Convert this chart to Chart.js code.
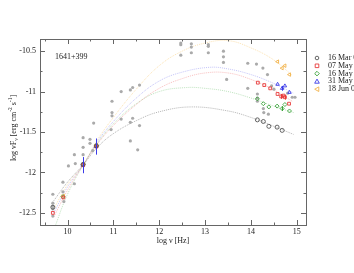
<!DOCTYPE html>
<html>
<head>
<meta charset="utf-8">
<script src="https://cdn.jsdelivr.net/npm/chart.js@4"></script>
<style>
  html, body { margin: 0; padding: 0; background: #fff; }
  #wrap { width: 354px; height: 273px; }
</style>
</head>
<body>
<div id="wrap"><canvas id="sed" width="354" height="273"></canvas></div>
<script>
// valori (log nu, log nuFnu)
const archivio = [
  [9.68,-12.27],[9.68,-12.38],[9.68,-12.42],[9.68,-12.45],[9.68,-12.54],
  [9.90,-12.12],[9.90,-12.24],[9.92,-12.36],
  [10.02,-11.92],[10.15,-11.78],[10.17,-11.89],[10.15,-12.14],
  [10.34,-11.57],[10.34,-11.69],[10.34,-11.78],
  [10.49,-11.59],[10.49,-11.64],[10.57,-11.39],[10.55,-11.73],
  [10.97,-11.12],[10.97,-11.26],[10.97,-11.30],[10.95,-11.47],
  [11.17,-11.00],[11.17,-11.34],
  [11.37,-10.98],[11.42,-10.95],[11.57,-10.92],
  [11.37,-11.61],[11.42,-11.33],[11.37,-11.38],[11.53,-11.72],[11.57,-11.42],
  [12.47,-10.40],[12.47,-10.42],[12.47,-10.55],
  [12.70,-10.41],[12.70,-10.45],[12.70,-10.52],
  [13.07,-10.42],[13.07,-10.44],[13.07,-10.52],
  [13.40,-10.50],[13.40,-10.57],[13.40,-10.64],
  [13.47,-10.85],
  [13.93,-10.65],[13.93,-10.96],
  [14.12,-10.66],[14.26,-10.71],[14.36,-10.79],
  [14.14,-11.03],[14.14,-11.08],[14.14,-11.12],
  [14.27,-11.21],[14.28,-11.26],[14.38,-11.28],
  [14.45,-10.93],[14.50,-10.97],
  [14.80,-11.02],[14.90,-11.07],[14.96,-11.07]
];

const mar16 = [[9.68,-12.43],[10.34,-11.90],[10.63,-11.67],[14.14,-11.35],[14.27,-11.37],[14.39,-11.43],[14.57,-11.44],[14.68,-11.48]];
const mag07 = [[9.68,-12.50],[9.91,-12.31],[10.34,-11.91],[10.63,-11.68],[14.15,-10.89],[14.29,-10.92],[14.42,-10.96],[14.58,-11.03],[14.66,-11.06],[14.71,-11.05],[14.74,-11.07],[14.83,-11.15]];
const mag16 = [[9.90,-12.30],[10.34,-11.90],[10.63,-11.67],[14.14,-11.09],[14.27,-11.15],[14.39,-11.19],[14.57,-11.18],[14.68,-11.21],[14.74,-11.16],[14.84,-11.24]];
const mag31 = [[10.33,-11.91],[10.62,-11.68],[14.58,-10.91],[14.68,-10.96],[14.74,-10.93],[14.84,-11.01]];
const giu18 = [[9.91,-12.29],[10.35,-11.90],[10.63,-11.66],[14.58,-10.63],[14.68,-10.71],[14.74,-10.68],[14.84,-10.79]];

// barre d'errore (stesso ordine dei punti)
const err07 = [0,0,0,0.07,0,0,0,0,0.03,0,0.03,0];
const err16 = [0,0,0,0,0,0,0,0.03,0,0];
const err31 = [0.1,0.1,0,0.03,0,0];

// curve del modello lette a occhio
const curvaMar = [[9.7,-12.35],[10,-12.12],[10.35,-11.9],[10.65,-11.69],[11,-11.52],[11.5,-11.36],[12,-11.25],[12.7,-11.19],[13.5,-11.24],[14,-11.32],[14.5,-11.43],[14.93,-11.53]];
const curvaMag07 = [[9.7,-12.55],[10,-12.22],[10.35,-11.9],[10.65,-11.65],[11,-11.42],[11.5,-11.16],[12,-10.96],[12.5,-10.84],[13,-10.77],[13.5,-10.77],[14,-10.85],[14.5,-10.98],[14.9,-11.12]];
const curvaMag16 = [[9.72,-12.68],[10,-12.27],[10.35,-11.9],[10.65,-11.64],[11,-11.4],[11.5,-11.15],[12,-11.0],[12.6,-10.95],[13,-10.96],[13.5,-11.0],[14,-11.08],[14.5,-11.18],[14.93,-11.26]];
const curvaMag31 = [[9.7,-12.5],[10,-12.18],[10.35,-11.9],[10.65,-11.62],[11,-11.37],[11.5,-11.08],[12,-10.87],[12.5,-10.76],[13.1,-10.7],[13.5,-10.72],[14,-10.79],[14.5,-10.9],[14.93,-11.02]];
const curvaGiu = [[9.7,-12.45],[10,-12.15],[10.35,-11.9],[10.65,-11.6],[11,-11.32],[11.5,-10.97],[12,-10.68],[12.5,-10.5],[13,-10.4],[13.5,-10.37],[14,-10.46],[14.5,-10.61],[14.9,-10.8]];

const xMaggiori = [10, 11, 12, 13, 14, 15];
const xMinori = [9.5, 10.5, 11.5, 12.5, 13.5, 14.5];
const yMaggiori = [-12.5, -12, -11.5, -11, -10.5];
const yMinori = [-12.25, -11.75, -11.25, -10.75];

const etichette = ['16 Mar 08', '07 May 08', '16 May 08', '31 May 08', '18 Jun 08'];
const colori = ['#555555', '#e83a3a', '#3aa33a', '#3a3ae8', '#f2b24a'];
const coloriCurve = ['rgba(120,120,120,0.7)', 'rgba(240,120,120,0.6)', 'rgba(120,195,120,0.6)', 'rgba(130,130,240,0.6)', 'rgba(250,205,120,0.7)'];
const simboli = ['circle', 'rect', 'rectRot', 'triangle', 'triangle'];
const rotazioni = [0, 0, 0, 0, -90];

const toXY = arr => arr.map(p => ({ x: p[0], y: p[1] }));
const FONT = 'Liberation Serif, Times New Roman, serif';

function curva(dati, i) {
    return {
        data: toXY(dati), showLine: true, pointRadius: 0, borderColor: coloriCurve[i],
        borderWidth: 0.8, borderDash: [1, 1], tension: 0.4, order: 3
    };
}
function serie(dati, i) {
    return {
        data: toXY(dati), showLine: false, pointStyle: simboli[i], rotation: rotazioni[i],
        pointRadius: 2, borderColor: colori[i], backgroundColor: 'rgba(255,255,255,0)',
        borderWidth: 0.9, order: 1
    };
}

// telaio, tacche interne, barre d'errore, testi
const decorazioni = {
    id: 'decorazioni',
    afterDatasetsDraw(chart) {
        const { ctx, scales: { x, y } } = chart;
        const gruppi = [[mag07, err07, 1], [mag16, err16, 2], [mag31, err31, 3]];
        ctx.save();
        ctx.lineWidth = 1;
        gruppi.forEach(([pts, errs, ci]) => {
            ctx.strokeStyle = colori[ci];
            pts.forEach((p, k) => {
                if (!errs[k]) return;
                const px = Math.round(x.getPixelForValue(p[0])) + 0.5;
                ctx.beginPath();
                ctx.moveTo(px, y.getPixelForValue(p[1] - errs[k]));
                ctx.lineTo(px, y.getPixelForValue(p[1] + errs[k]));
                ctx.stroke();
            });
        });
        ctx.restore();
    },
    afterDraw(chart) {
        const { ctx, chartArea: a, scales: { x, y } } = chart;
        ctx.save();
        ctx.strokeStyle = '#666';
        ctx.lineWidth = 1;
        ctx.strokeRect(Math.round(a.left) + 0.5, Math.round(a.top) + 0.5, Math.round(a.right - a.left), Math.round(a.bottom - a.top));
        const tacca = (vals, len, asse) => {
            vals.forEach(v => {
                ctx.beginPath();
                if (asse === 'x') {
                    const px = Math.round(x.getPixelForValue(v)) + 0.5;
                    ctx.moveTo(px, a.bottom); ctx.lineTo(px, a.bottom - len);
                    ctx.moveTo(px, a.top); ctx.lineTo(px, a.top + len);
                } else {
                    const py = Math.round(y.getPixelForValue(v)) + 0.5;
                    ctx.moveTo(a.left, py); ctx.lineTo(a.left + len, py);
                    ctx.moveTo(a.right, py); ctx.lineTo(a.right - len, py);
                }
                ctx.stroke();
            });
        };
        tacca(xMaggiori, 5, 'x'); tacca(xMinori, 2.5, 'x');
        tacca(yMaggiori, 5, 'y'); tacca(yMinori, 2.5, 'y');

        ctx.fillStyle = '#222';
        ctx.font = '8px ' + FONT;
        ctx.textBaseline = 'middle';
        ctx.fillText('1641+399', 55, 57);

        // titolo asse x
        ctx.textAlign = 'center';
        ctx.font = '8px ' + FONT;
        ctx.fillText('log \u03bd [Hz]', 173, 241);

        // titolo asse y con pedici / apici
        ctx.save();
        ctx.translate(14, 128);
        ctx.rotate(-Math.PI / 2);
        const pezzi = [['log \u03bdF', 8, 0], ['\u03bd', 5.5, 2.5], [' [erg cm', 8, 0], ['-2', 5.5, -3], [' s', 8, 0], ['-1', 5.5, -3], [']', 8, 0]];
        let tot = 0;
        pezzi.forEach(p => { ctx.font = p[1] + 'px ' + FONT; tot += ctx.measureText(p[0]).width; });
        let cx = -tot / 2;
        ctx.textAlign = 'left';
        pezzi.forEach(p => {
            ctx.font = p[1] + 'px ' + FONT;
            ctx.fillText(p[0], cx, p[2]);
            cx += ctx.measureText(p[0]).width;
        });
        ctx.restore();

        // legenda a destra
        ctx.font = '8px ' + FONT;
        ctx.textAlign = 'left';
        ctx.lineWidth = 0.9;
        etichette.forEach((t, i) => {
            const ly = 58 + i * 7.8, lx = 317;
            ctx.strokeStyle = colori[i];
            ctx.beginPath();
            const r = 1.8;
            if (i === 0) ctx.arc(lx, ly, r, 0, Math.PI * 2);
            else if (i === 1) ctx.rect(lx - r, ly - r, 2 * r, 2 * r);
            else if (i === 2) { ctx.moveTo(lx, ly - r - 0.5); ctx.lineTo(lx + r + 0.5, ly); ctx.lineTo(lx, ly + r + 0.5); ctx.lineTo(lx - r - 0.5, ly); ctx.closePath(); }
            else if (i === 3) { ctx.moveTo(lx, ly - r - 0.5); ctx.lineTo(lx + r + 0.5, ly + r); ctx.lineTo(lx - r - 0.5, ly + r); ctx.closePath(); }
            else { ctx.moveTo(lx - r - 0.5, ly); ctx.lineTo(lx + r, ly - r - 0.5); ctx.lineTo(lx + r, ly + r + 0.5); ctx.closePath(); }
            ctx.stroke();
            ctx.fillStyle = '#222';
            ctx.fillText(t, 328, ly);
        });
        ctx.restore();
    }
};

const ctx = document.getElementById('sed').getContext('2d');
new Chart(ctx, {
    type: 'scatter',
    data: {
        datasets: [
            curva(curvaMar, 0), curva(curvaMag07, 1), curva(curvaMag16, 2), curva(curvaMag31, 3), curva(curvaGiu, 4),
            { data: toXY(archivio), pointRadius: 1.6, pointStyle: 'circle', backgroundColor: '#aaaaaa', borderColor: '#aaaaaa', borderWidth: 0, order: 2 },
            serie(mar16, 0), serie(mag07, 1), serie(mag16, 2), serie(mag31, 3), serie(giu18, 4)
        ]
    },
    options: {
        responsive: false,
        animation: false,
        layout: { padding: { left: 0, right: 48, top: 39, bottom: 0 } },
        plugins: { legend: { display: false }, tooltip: { enabled: false } },
        scales: {
            x: {
                type: 'linear', min: 9.4, max: 15.2,
                grid: { display: false, drawTicks: false }, border: { display: false },
                afterBuildTicks: s => { s.ticks = xMaggiori.map(v => ({ value: v })); },
                afterFit: s => { s.height = 48; },
                ticks: { padding: 2, color: '#222', font: { family: FONT, size: 8 }, maxRotation: 0, callback: v => String(v) }
            },
            y: {
                type: 'linear', min: -12.65, max: -10.35,
                grid: { display: false, drawTicks: false }, border: { display: false },
                afterBuildTicks: s => { s.ticks = yMaggiori.map(v => ({ value: v })); },
                afterFit: s => { s.width = 40; },
                ticks: { padding: 4, color: '#222', font: { family: FONT, size: 8 }, callback: v => String(v) }
            }
        }
    },
    plugins: [decorazioni]
});
</script>
</body>
</html>
